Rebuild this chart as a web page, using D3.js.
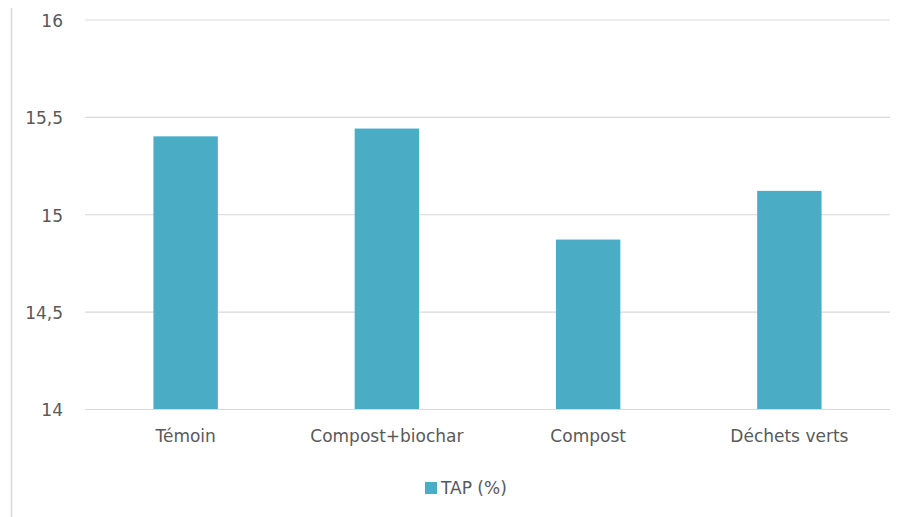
<!DOCTYPE html>
<html>
<head>
<meta charset="utf-8">
<script src="https://cdn.jsdelivr.net/npm/d3@7"></script>
<style>
  html, body { margin: 0; padding: 0; background: #fff; }
  svg { display: block; }
  svg text { font-family: "DejaVu Sans", sans-serif; }
</style>
</head>
<body>
<svg id="chart" width="909" height="517"></svg>
<script>
// Treatments and TAP (%) values
const categories = ["Témoin", "Compost+biochar", "Compost", "Déchets verts"];
const tapValues = [15.40, 15.44, 14.87, 15.12];
const yTicks = [14, 14.5, 15, 15.5, 16];
const seriesName = "TAP (%)";

const svg = d3.select("#chart");
const W = 909, H = 517;
const plot = { left: 85, right: 890, top: 19.5, bottom: 409 };
const barColor = "#4bacc6";
const textColor = "#595959";
const fontSize = "17px";

// chart frame line on the left
svg.append("line")
  .attr("x1", 11.5).attr("x2", 11.5)
  .attr("y1", 8).attr("y2", H)
  .attr("stroke", "#d9d9d9").attr("stroke-width", 1.5);

const x = d3.scaleBand()
  .domain(categories)
  .range([plot.left, plot.right])
  .paddingInner(0.68)
  .paddingOuter(0.34);

const y = d3.scaleLinear()
  .domain([14, 16])
  .range([plot.bottom, plot.top]);

// horizontal gridlines + y labels
const yAxis = d3.axisLeft(y)
  .tickValues(yTicks)
  .tickSize(-(plot.right - plot.left))
  .tickPadding(22)
  .tickFormat(d => d3.format("~g")(d).replace(".", ","));

const gy = svg.append("g")
  .attr("transform", `translate(${plot.left},0)`)
  .call(yAxis);
gy.select(".domain").remove();
gy.selectAll(".tick line")
  .attr("stroke", "#d9d9d9").attr("stroke-width", 1.2);
gy.selectAll(".tick text")
  .attr("fill", textColor)
  .attr("dy", "0.4em")
  .style("font-size", fontSize);

// bars
svg.append("g").selectAll("rect")
  .data(categories)
  .join("rect")
  .attr("x", d => x(d))
  .attr("width", x.bandwidth())
  .attr("y", (d, i) => y(tapValues[i]))
  .attr("height", (d, i) => y(14) - y(tapValues[i]))
  .attr("fill", barColor);

// x labels
const xAxis = d3.axisBottom(x).tickSize(0).tickPadding(21);
const gx = svg.append("g")
  .attr("transform", `translate(0,${plot.bottom})`)
  .call(xAxis);
gx.select(".domain").remove();
gx.selectAll(".tick text")
  .attr("fill", textColor)
  .style("font-size", fontSize);

// legend
const legend = svg.append("g").attr("transform", "translate(425,482)");
legend.append("rect")
  .attr("width", 12).attr("height", 12)
  .attr("fill", barColor);
legend.append("text")
  .attr("x", 16).attr("y", 12)
  .attr("fill", textColor)
  .style("font-size", fontSize)
  .text(seriesName);
</script>
</body>
</html>
